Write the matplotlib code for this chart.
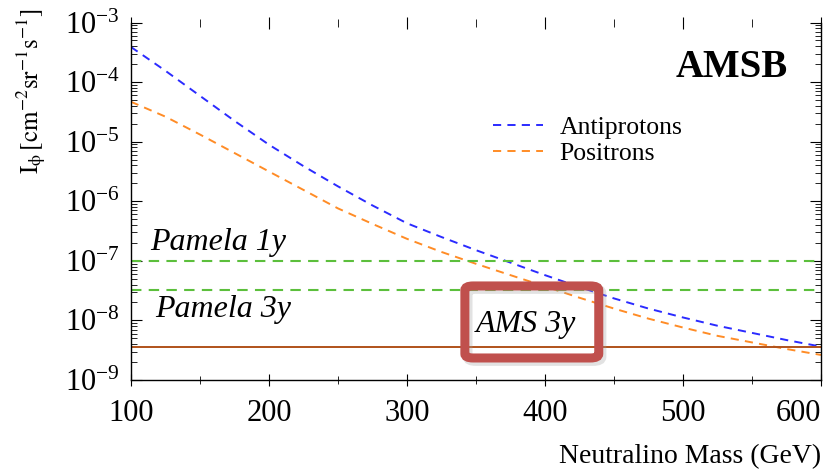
import matplotlib
matplotlib.use("Agg")
import matplotlib.pyplot as plt
from matplotlib.patches import FancyBboxPatch
from matplotlib.ticker import LogLocator, MultipleLocator, NullFormatter

# Neutralino mass grid (GeV) and predicted fluxes
mass = [100, 125, 150, 175, 200, 225, 250, 275, 300, 325, 350,
        375, 400, 425, 450, 475, 500, 525, 550, 575, 600]
antiprotons = [3.89e-4, 1.55e-4, 5.89e-5, 2.24e-5, 8.91e-6, 3.89e-6, 1.78e-6,
               8.51e-7, 4.27e-7, 2.51e-7, 1.51e-7, 9.33e-8, 5.75e-8, 3.63e-8,
               2.34e-8, 1.58e-8, 1.12e-8, 8.13e-9, 6.17e-9, 4.68e-9, 3.63e-9]
positrons = [4.68e-5, 2.63e-5, 1.32e-5, 6.46e-6, 3.16e-6, 1.55e-6, 7.59e-7,
             4.17e-7, 2.34e-7, 1.41e-7, 8.91e-8, 5.75e-8, 3.72e-8, 2.40e-8,
             1.58e-8, 1.07e-8, 7.59e-9, 5.50e-9, 4.27e-9, 3.31e-9, 2.63e-9]

# Experimental sensitivities
pamela_1y = 1.0e-7
pamela_3y = 3.2e-8
ams_3y = 3.6e-9

x_ticks = [100, 200, 300, 400, 500, 600]
x_tick_labels = ["100", "200", "300", "400", "500", "600"]
series_labels = ["Antiprotons", "Positrons"]
sensitivity_labels = ["Pamela 1y", "Pamela 3y", "AMS 3y"]
model_label = "AMSB"

plt.rcParams["font.family"] = ["Liberation Serif", "DejaVu Serif"]
plt.rcParams["mathtext.fontset"] = "stix"

fig = plt.figure(figsize=(8.39, 4.72), dpi=100)
ax = fig.add_axes([0.156, 0.195, 0.8225, 0.7573])

dash = (0, (4.2, 3.2))
ax.plot(mass, antiprotons, color="#2b2bff", lw=1.4, ls=dash, label=series_labels[0])
ax.plot(mass, positrons, color="#ff8c26", lw=1.4, ls=dash, label=series_labels[1])
ax.axhline(pamela_1y, color="#5cbf3c", lw=1.5, ls=(0, (5, 3.5)))
ax.axhline(pamela_3y, color="#5cbf3c", lw=1.5, ls=(0, (5, 3.5)))
ax.axhline(ams_3y, color="#b0521a", lw=1.4)

ax.set_yscale("log")
ax.set_xlim(100, 600)
ax.set_ylim(1e-9, 1e-3)

ax.set_xticks(x_ticks, x_tick_labels)
ax.xaxis.set_minor_locator(MultipleLocator(50))
ax.yaxis.set_major_locator(LogLocator(base=10, numticks=10))
ax.yaxis.set_minor_locator(LogLocator(base=10, subs=range(2, 10), numticks=20))
ax.yaxis.set_minor_formatter(NullFormatter())

ax.spines["top"].set_visible(False)
for s in ("left", "bottom", "right"):
    ax.spines[s].set_linewidth(1.0)

ax.tick_params(axis="both", which="both", direction="in", top=True, right=True,
               labelsize=22, pad=8)
ax.tick_params(axis="x", which="major", length=9, direction="inout", pad=9)
ax.tick_params(axis="x", which="minor", length=6, direction="inout")
ax.tick_params(axis="y", which="major", length=8)
ax.tick_params(axis="y", which="minor", length=4)
ax.get_xticklabels()[-1].set_horizontalalignment("right")

ax.set_xlabel("Neutralino Mass (GeV)", fontsize=20, loc="right", labelpad=12)
ax.set_ylabel(r"$\mathrm{I_{\phi}\,[cm^{-2}sr^{-1}s^{-1}]}$", fontsize=18, loc="top")
ax.yaxis.set_label_coords(-0.12, 1.04)

ax.text(0.87, 0.8475, model_label, transform=ax.transAxes, fontsize=28,
        fontweight="bold", ha="center", va="baseline")

ax.text(0.0275, 0.364, sensitivity_labels[0], transform=ax.transAxes,
        fontsize=23, style="italic", ha="left", va="baseline")
ax.text(0.035, 0.176, sensitivity_labels[1], transform=ax.transAxes,
        fontsize=23, style="italic", ha="left", va="baseline")
ax.text(0.572, 0.154, sensitivity_labels[2], transform=ax.transAxes,
        fontsize=23, style="italic", ha="center", va="center")

# Highlight frame around the AMS label, with a soft drop shadow
box_kw = dict(boxstyle="round,pad=0,rounding_size=0.012", transform=ax.transAxes,
              clip_on=False)
shadow = FancyBboxPatch((0.488, 0.053), 0.194, 0.2015, fc="none", ec="#a0a0a0",
                        lw=7, alpha=0.3, zorder=4, **box_kw)
frame = FancyBboxPatch((0.484, 0.0615), 0.194, 0.2015, fc="none", ec="#c0504d",
                       lw=6.5, zorder=5, **box_kw)
ax.add_patch(shadow)
ax.add_patch(frame)

ax.legend(loc="upper left", bbox_to_anchor=(0.5246, 0.739), frameon=False,
          fontsize=18.5, handlelength=1.95, handletextpad=0.65, labelspacing=0.12,
          borderpad=0, borderaxespad=0)

fig.savefig("out.png", dpi=100)
